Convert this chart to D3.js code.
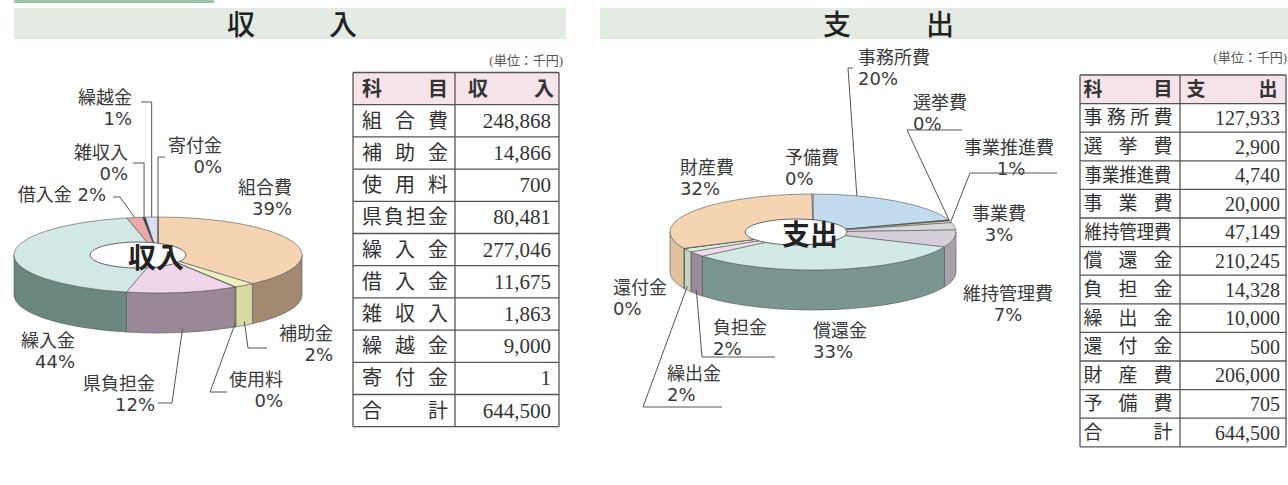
<!DOCTYPE html>
<html>
<head>
<meta charset="utf-8">
<script src="https://cdn.jsdelivr.net/npm/d3@7"></script>
<style>
  body { margin: 0; background: #fff; }
  svg { display: block; }
</style>
</head>
<body>
<div id="chart"></div>
<script>

// ---- data ----
var incomeNames  = ["組合費","補助金","使用料","県負担金","繰入金","借入金","雑収入","繰越金","寄付金"];
var incomeValues = [248868, 14866, 700, 80481, 277046, 11675, 1863, 9000, 1];
var incomePct    = [39, 2, 0, 12, 44, 2, 0, 1, 0];
var incomeTotal  = 644500;

var expenseNames  = ["事務所費","選挙費","事業推進費","事業費","維持管理費","償還金","負担金","繰出金","還付金","財産費","予備費"];
var expenseValues = [127933, 2900, 4740, 20000, 47149, 210245, 14328, 10000, 500, 206000, 705];
var expensePct    = [20, 0, 1, 3, 7, 33, 2, 2, 0, 32, 0];
var expenseTotal  = 644500;

var incomeHead  = ["科目", "収入"];
var expenseHead = ["科目", "支出"];
var totalLabel  = "合計";
var unitLabel   = "(単位：千円)";

// ---- styles ----
var incomeTop  = ["#f4d4b2","#eef0c2","#d2d8aa","#eed6e8","#d2e8e4","#e8aaa8","#3a3a48","#dcdff2","#ffffff"];
var incomeSide = ["#a28a70","#d6daa4","#b8bc90","#9a8798","#6c8780","#b07878","#303038","#a8aac0","#cccccc"];
var expenseTop  = ["#c2dcee","#2e3640","#f2f2c6","#d8d8da","#d4ced8","#d2eae6","#eedcea","#dcefd8","#2e3a34","#f4d4b2","#f6f6f6"];
var expenseSide = ["#8aa4b8","#20262c","#dcdca6","#b4b4ba","#a8a0aa","#7b9690","#9b8a9c","#c2d8c0","#1e2a24","#e0c29e","#cccccc"];

var labelFont = "'DejaVu Sans', 'Noto Sans CJK JP', sans-serif";
var titleFont = "'Noto Sans CJK JP', sans-serif";
var serifFont = "'Liberation Serif', 'DejaVu Serif', 'Noto Sans CJK JP', serif";
var fmt = d3.format(",");

var svg = d3.select("#chart").append("svg")
    .attr("width", 1288)
    .attr("height", 485);

// ---- title bars ----
svg.append("rect").attr("x", 14).attr("y", 0).attr("width", 200).attr("height", 3).attr("fill", "#9cc6a6");

var bars = [
  {x: 14,  w: 552, chars: ["収","入"], cx: [241, 343]},
  {x: 600, w: 688, chars: ["支","出"], cx: [837, 940]}
];
bars.forEach(function(b){
  svg.append("rect").attr("x", b.x).attr("y", 8).attr("width", b.w).attr("height", 31).attr("fill", "#e3ebe3");
  b.chars.forEach(function(c, i){
    svg.append("text")
      .attr("x", b.cx[i]).attr("y", 23)
      .attr("text-anchor", "middle").attr("dominant-baseline", "central")
      .attr("font-family", titleFont).attr("font-size", 28).attr("font-weight", 500)
      .attr("fill", "#222")
      .text(c);
  });
});

// ---- 3D pie ----
function pie3d(){
  var cx = 0, cy = 0, rx = 100, ry = 30, depth = 30, tops = [], sides = [];

  function pt(a, dy){
    return [cx + rx * Math.sin(a), cy - ry * Math.cos(a) + (dy || 0)];
  }

  function chart(g, values){
    var arcs = d3.pie().sort(null).value(function(d){ return d; })(values);

    // visible outer wall: front half only
    var walls = g.append("g").attr("class", "walls");
    arcs.forEach(function(d, i){
      var s = Math.max(d.startAngle, Math.PI / 2),
          e = Math.min(d.endAngle, 3 * Math.PI / 2);
      if (e <= s) return;
      var p0 = pt(s), p1 = pt(e), p2 = pt(e, depth), p3 = pt(s, depth);
      walls.append("path")
        .attr("d", "M" + p0 + " A" + rx + "," + ry + " 0 0 1 " + p1 +
                   " L" + p2 + " A" + rx + "," + ry + " 0 0 0 " + p3 + " Z")
        .attr("fill", sides[i])
        .attr("stroke", "#555")
        .attr("stroke-width", 0.6);
    });

    var top = g.append("g").attr("class", "top");
    arcs.forEach(function(d, i){
      var p0 = pt(d.startAngle), p1 = pt(d.endAngle),
          large = (d.endAngle - d.startAngle) > Math.PI ? 1 : 0;
      top.append("path")
        .attr("d", "M" + cx + "," + cy + " L" + p0 + " A" + rx + "," + ry + " 0 " + large + " 1 " + p1 + " Z")
        .attr("fill", tops[i])
        .attr("stroke", "#555")
        .attr("stroke-width", 0.6);
    });
    return arcs;
  }

  chart.pt = pt;
  chart.center = function(x, y){ cx = x; cy = y; return chart; };
  chart.radius = function(a, b){ rx = a; ry = b; return chart; };
  chart.depth = function(x){ if (!arguments.length) return depth; depth = x; return chart; };
  chart.colors = function(a, b){ tops = a; sides = b; return chart; };
  return chart;
}

function drawLabels(g, arcs, pie, names, pct, layout){
  names.forEach(function(name, i){
    var L = layout[name];
    if (!L) return;
    var lines = L.oneLine ? [name + " " + pct[i] + "%"] : [name, pct[i] + "%"];
    lines.forEach(function(s, k){
      g.append("text")
        .attr("x", L.x2 != null && k == 1 ? L.x2 : L.x)
        .attr("y", L.y + k * 21)
        .attr("text-anchor", L.anchor)
        .attr("dominant-baseline", "central")
        .attr("font-family", labelFont)
        .attr("font-size", 18)
        .attr("fill", "#3a3a3a")
        .text(s);
    });
    if (L.leader){
      var d = arcs[i],
          a = d.startAngle + (L.t == null ? 0.5 : L.t) * (d.endAngle - d.startAngle),
          front = Math.cos(a) < 0,
          p = pie.pt(a, front ? pie.depth() * 0.9 : 0),
          kx = L.leader[2] == null ? p[0] : L.leader[2];
      g.append("path")
        .attr("d", "M" + L.leader[0] + "," + L.leader[1] + " H" + kx + " L" + p[0] + "," + p[1])
        .attr("fill", "none")
        .attr("stroke", "#555")
        .attr("stroke-width", 1);
    }
  });
}

function centerTag(g, cx, cy, rx, ry, tx, text){
  g.append("ellipse").attr("cx", cx).attr("cy", cy).attr("rx", rx).attr("ry", ry)
    .attr("fill", "#fff").attr("stroke", "#444").attr("stroke-width", 0.8);
  g.append("text").attr("x", tx).attr("y", cy + 1)
    .attr("text-anchor", "middle").attr("dominant-baseline", "central")
    .attr("font-family", titleFont).attr("font-size", 28).attr("font-weight", 700)
    .attr("fill", "#222").text(text);
}

// income pie
var incomeLayout = {
  "組合費":   {x: 292, y: 187, anchor: "end"},
  "補助金":   {x: 333, y: 333, anchor: "end", leader: [267, 348, 248]},
  "使用料":   {x: 283, y: 379, anchor: "end", leader: [227, 392, 210]},
  "県負担金": {x: 155, y: 383, anchor: "end", leader: [158, 403, 172]},
  "繰入金":   {x: 75,  y: 340, anchor: "end"},
  "借入金":   {x: 106, y: 194, anchor: "end", oneLine: true, leader: [113, 197, 120]},
  "雑収入":   {x: 128, y: 152, anchor: "end", leader: [133, 163, null]},
  "繰越金":   {x: 132, y: 97,  anchor: "end", leader: [141, 102, null]},
  "寄付金":   {x: 222, y: 145, anchor: "end", leader: [165, 157, null], t: 0}
};

var gIncome = svg.append("g").attr("class", "incomePie");
var incomePie = pie3d().center(158, 255).radius(144, 38).depth(40).colors(incomeTop, incomeSide);
var incomeArcs = incomePie(gIncome, incomeValues);
centerTag(gIncome, 138, 255, 48, 13, 156, "収入");
drawLabels(gIncome, incomeArcs, incomePie, incomeNames, incomePct, incomeLayout);

// expense pie
var expenseLayout = {
  "事務所費":   {x: 858, y: 57,  anchor: "start", leader: [853, 68, 848], t: 0.25},
  "選挙費":     {x: 913, y: 102, anchor: "start", leader: [962, 130, 907]},
  "事業推進費": {x: 1009, y: 147, anchor: "middle", x2: 1011, leader: [1057, 173, 970]},
  "事業費":     {x: 999, y: 213, anchor: "middle"},
  "維持管理費": {x: 1008, y: 293, anchor: "middle"},
  "償還金":     {x: 813, y: 330, anchor: "start"},
  "負担金":     {x: 713, y: 327, anchor: "start", leader: [775, 357, 702]},
  "繰出金":     {x: 667, y: 373, anchor: "start", leader: [722, 407, 643]},
  "還付金":     {x: 613, y: 287, anchor: "start"},
  "財産費":     {x: 680, y: 167, anchor: "start"},
  "予備費":     {x: 785, y: 157, anchor: "start"}
};

var gExpense = svg.append("g").attr("class", "expensePie");
var expensePie = pie3d().center(813, 232).radius(143, 38).depth(40).colors(expenseTop, expenseSide);
var expenseArcs = expensePie(gExpense, expenseValues);
centerTag(gExpense, 796, 232, 51, 13, 810, "支出");
drawLabels(gExpense, expenseArcs, expensePie, expenseNames, expensePct, expenseLayout);

// ---- tables ----
function drawTable(g, opt){
  var rows = opt.names.map(function(n, i){ return {name: n, value: fmt(opt.values[i])}; });
  rows.push({name: totalLabel, value: fmt(opt.total)});

  var y = d3.scaleBand()
    .domain(d3.range(rows.length + 1))
    .range([opt.y, opt.y + opt.rowH * (rows.length + 1)]);
  var x0 = opt.x, x1 = opt.x + opt.w0, x2 = x1 + opt.w1;

  g.append("rect").attr("x", x0).attr("y", y(0)).attr("width", x2 - x0).attr("height", y.bandwidth())
    .attr("fill", "#f6e4ea");

  // grid
  y.domain().concat([rows.length + 1]).forEach(function(i){
    var yy = opt.y + i * opt.rowH;
    g.append("line").attr("x1", x0).attr("x2", x2).attr("y1", yy).attr("y2", yy)
      .attr("stroke", "#555").attr("stroke-width", 1.3);
  });
  [x0, x1, x2].forEach(function(xx){
    g.append("line").attr("x1", xx).attr("x2", xx).attr("y1", opt.y).attr("y2", opt.y + opt.rowH * (rows.length + 1))
      .attr("stroke", "#555").attr("stroke-width", 1.3);
  });

  function spread(text, left, right, cy, bold){
    var chars = text.split("");
    if (chars.length >= 5){
      g.append("text").attr("x", left - opt.fs / 2 + 1).attr("y", cy)
        .attr("dominant-baseline", "central")
        .attr("textLength", right - left + opt.fs - 2).attr("lengthAdjust", "spacingAndGlyphs")
        .attr("font-family", serifFont).attr("font-size", opt.fs).attr("fill", "#333")
        .text(text);
      return;
    }
    var px = d3.scalePoint().domain(d3.range(chars.length)).range([left, right]);
    chars.forEach(function(c, k){
      g.append("text").attr("x", px(k)).attr("y", cy)
        .attr("text-anchor", "middle").attr("dominant-baseline", "central")
        .attr("font-family", serifFont).attr("font-size", opt.fs)
        .attr("font-weight", bold ? 700 : 400).attr("fill", "#333")
        .text(c);
    });
  }

  var cy0 = y(0) + y.bandwidth() / 2;
  spread(opt.head[0], x0 + opt.padL, x1 - opt.padR, cy0, true);
  spread(opt.head[1], x1 + opt.headL, x2 - opt.headR, cy0, true);

  rows.forEach(function(r, i){
    var cy = y(i + 1) + y.bandwidth() / 2;
    spread(r.name, x0 + opt.padL, x1 - opt.padR, cy, false);
    g.append("text").attr("x", x2 - opt.numR).attr("y", cy)
      .attr("text-anchor", "end").attr("dominant-baseline", "central")
      .attr("font-family", serifFont).attr("font-size", opt.fs + 1).attr("fill", "#333")
      .text(r.value);
  });

  g.append("text").attr("x", opt.unitX).attr("y", opt.unitY)
    .attr("text-anchor", "end").attr("dominant-baseline", "central")
    .attr("font-family", serifFont).attr("font-size", 13).attr("fill", "#555")
    .text(unitLabel);
}

drawTable(svg.append("g"), {
  names: incomeNames, values: incomeValues, total: incomeTotal, head: incomeHead,
  x: 353, y: 72.5, w0: 102, w1: 104, rowH: 32.2, fs: 20,
  padL: 19, padR: 17, headL: 23, headR: 15, numR: 8, unitX: 563, unitY: 60
});

drawTable(svg.append("g"), {
  names: expenseNames, values: expenseValues, total: expenseTotal, head: expenseHead,
  x: 1080, y: 75, w0: 100, w1: 106, rowH: 28.6, fs: 19,
  padL: 13, padR: 17, headL: 16, headR: 18, numR: 6, unitX: 1287, unitY: 57
});

</script>
</body>
</html>
